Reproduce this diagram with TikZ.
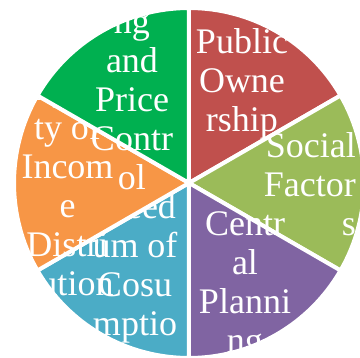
\documentclass[tikz,border=0pt]{standalone}
\usepackage{fontspec}
\setmainfont{Liberation Serif}
\definecolor{ownred}{HTML}{C0504D}
\definecolor{socolive}{HTML}{9BBB59}
\definecolor{planpurple}{HTML}{8064A2}
\definecolor{consblue}{HTML}{4BACC6}
\definecolor{incorange}{HTML}{F79646}
\definecolor{pricegreen}{HTML}{00B050}
\newcommand{\rowstrut}{\rule[-11.7pt]{0pt}{39pt}}
\tikzset{
  slice/.style={fill=#1, draw=white, line width=4pt, line join=round},
  slicetext/.style={text=white, font=\fontsize{36}{39}\selectfont,
    inner sep=0pt, anchor=north, align=center},
}
\begin{document}
\begin{tikzpicture}[x=1pt,y=1pt]
  \useasboundingbox (0,0) rectangle (360,-358);
  \coordinate (c) at (189,-183);
  % each slice is followed by its own text, so later slices cover earlier text
  \fill[slice=ownred] (c) -- ++(30:175) arc[start angle=30, end angle=90, radius=175] -- cycle;
  \node[slicetext] (own) at (242,-25.7)
    {\rowstrut Public\\\rowstrut Owne\\\rowstrut rship};
  \fill[slice=socolive] (c) -- ++(-30:175) arc[start angle=-30, end angle=30, radius=175] -- cycle;
  \node[slicetext, align=right, anchor=north east] (soc) at (356,-129.7)
    {\rowstrut Social\\\rowstrut Factor\\\rowstrut s};
  \fill[slice=planpurple] (c) -- ++(-90:175) arc[start angle=-90, end angle=-30, radius=175] -- cycle;
  \node[slicetext] (plan) at (245,-207.7)
    {\rowstrut Centr\\\rowstrut al\\\rowstrut Planni\\\rowstrut ng};
  \fill[slice=consblue] (c) -- ++(-150:175) arc[start angle=-150, end angle=-90, radius=175] -- cycle;
  \node[slicetext] (cons) at (135,-190.7)
    {\rowstrut Freed\\\rowstrut um of\\\rowstrut Cosu\\\rowstrut mptio\\\rowstrut n};
  \fill[slice=incorange] (c) -- ++(150:175) arc[start angle=150, end angle=210, radius=175] -- cycle;
  \node[slicetext] (inc) at (67.5,-72.7)
    {\rowstrut Equali\\\rowstrut ty of\\\rowstrut Incom\\\rowstrut e\\\rowstrut Distri\\\rowstrut bution};
  \fill[slice=pricegreen] (c) -- ++(90:175) arc[start angle=90, end angle=150, radius=175] -- cycle;
  \node[slicetext] (price) at (132,33.3)
    {\rowstrut Prici\\\rowstrut ng\\\rowstrut and\\\rowstrut Price\\\rowstrut Contr\\\rowstrut ol};
\end{tikzpicture}
\end{document}
